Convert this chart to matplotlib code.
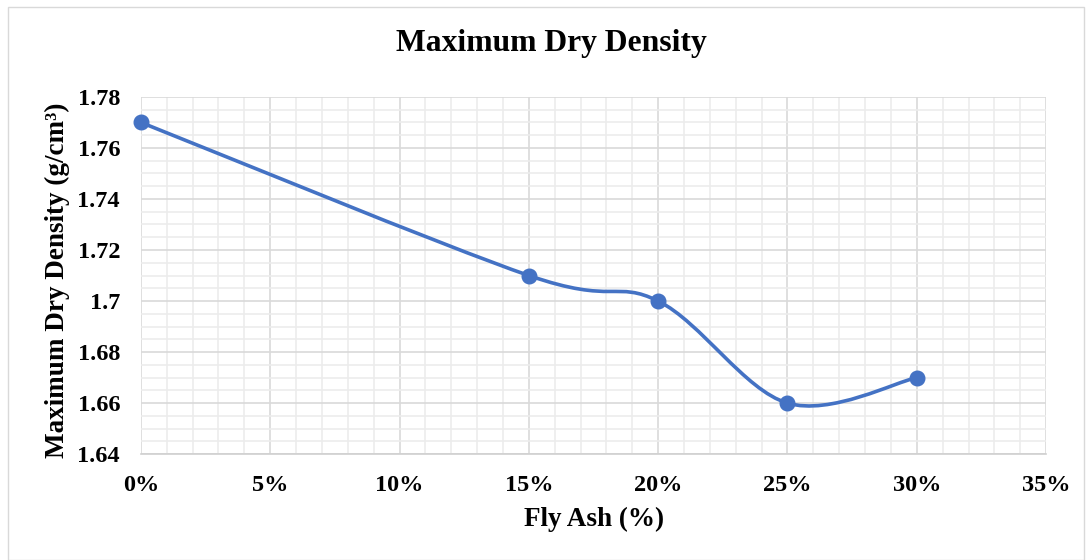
import numpy as np
import matplotlib.pyplot as plt
from matplotlib.path import Path
from matplotlib.patches import PathPatch, Rectangle
from matplotlib.ticker import MultipleLocator, FuncFormatter

fly_ash = [0.00, 0.15, 0.20, 0.25, 0.30]
mdd = [1.77, 1.71, 1.70, 1.66, 1.67]

plt.rcParams['font.family'] = ['Liberation Serif', 'DejaVu Serif']
plt.rcParams['font.weight'] = 'bold'

blue = '#4472C4'

fig = plt.figure(figsize=(10.92, 5.6), dpi=100)
ax = fig.add_axes([0.129, 0.189, 0.829, 0.638])

# smoothed line, bezier control points at 1/6 of neighbour difference
pts = np.column_stack([fly_ash, mdd])
ext = np.vstack([pts[0], pts, pts[-1]])
verts = [tuple(pts[0])]
codes = [Path.MOVETO]
for i in range(len(pts) - 1):
    p0, p1, p2, p3 = ext[i], ext[i + 1], ext[i + 2], ext[i + 3]
    c1 = p1 + (p2 - p0) / 6
    c2 = p2 - (p3 - p1) / 6
    verts += [tuple(c1), tuple(c2), tuple(p2)]
    codes += [Path.CURVE4] * 3
ax.add_patch(PathPatch(Path(verts, codes), fill=False, edgecolor=blue,
                       lw=2.6, zorder=3, capstyle='round'))
ax.plot(fly_ash, mdd, 'o', color=blue, ms=10.5, zorder=4, clip_on=False)

ax.set_xlim(0, 0.35)
ax.set_ylim(1.64, 1.78)
ax.xaxis.set_major_locator(MultipleLocator(0.05))
ax.xaxis.set_minor_locator(MultipleLocator(0.01))
ax.yaxis.set_major_locator(MultipleLocator(0.02))
ax.yaxis.set_minor_locator(MultipleLocator(0.005))
ax.xaxis.set_major_formatter(FuncFormatter(lambda v, p: f'{v * 100:.0f}%'))
ax.yaxis.set_major_formatter(FuncFormatter(lambda v, p: f'{v:.2f}'.rstrip('0').rstrip('.') if abs(v - 1.70) < 1e-9 else f'{v:.2f}'))

ax.grid(which='major', color='#d9d9d9', lw=1.2)
ax.grid(which='minor', color='#ececec', lw=1.2)
ax.set_axisbelow(True)
ax.tick_params(which='both', length=0, labelsize=17.5)
ax.tick_params(axis='y', pad=15)
ax.tick_params(axis='x', pad=15)
for s in ['top', 'right', 'left']:
    ax.spines[s].set_visible(False)
ax.spines['bottom'].set_color('#d0d0d0')
ax.spines['bottom'].set_linewidth(1.2)

fig.text(0.505, 1 - 44 / 560, 'Maximum Dry Density', fontsize=22.8,
         fontweight='bold', ha='center', va='center')
fig.text(0.544, 1 - 519 / 560, 'Fly Ash (%)', fontsize=19.5,
         fontweight='bold', ha='center', va='center')
fig.text(57 / 1092, 1 - 280 / 560, 'Maximum Dry Density (g/cm³)', fontsize=19.5,
         fontweight='bold', ha='center', va='center', rotation=90)

fig.patches.append(Rectangle((0.007, 0.0), 0.986, 0.987, transform=fig.transFigure,
                             fill=False, edgecolor='#d9d9d9', lw=1))

fig.savefig('out.png', dpi=100)
